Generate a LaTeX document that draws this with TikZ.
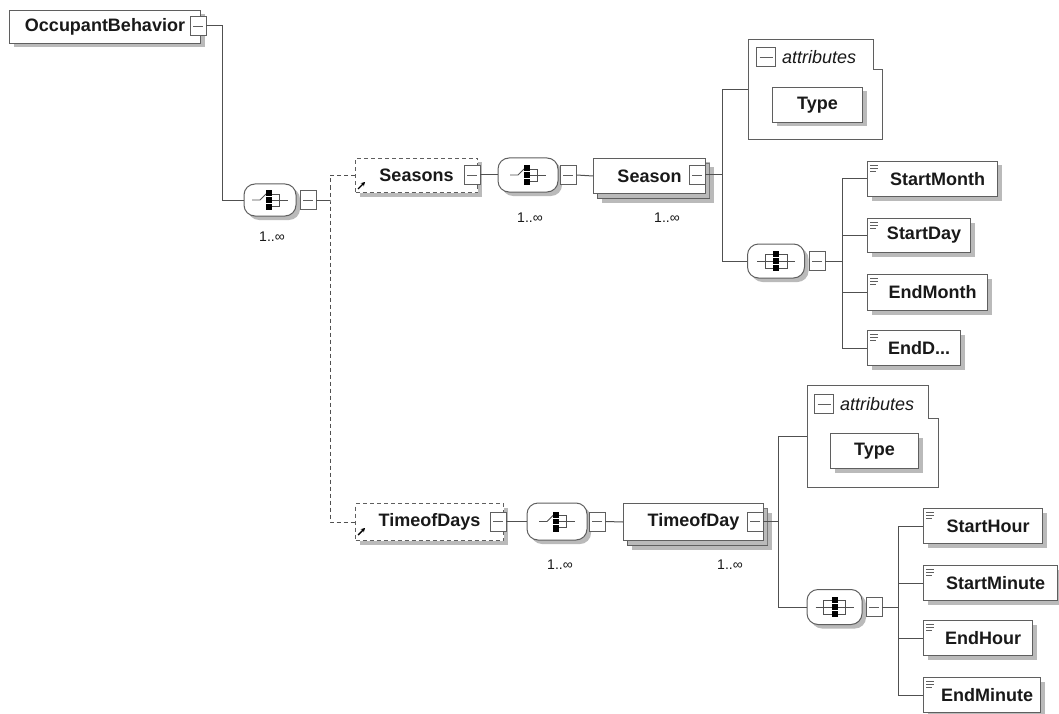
\documentclass[tikz,border=0pt]{standalone}
\usepackage{fontspec}
\setmainfont{Liberation Sans}
\usetikzlibrary{shadows,arrows.meta}
\definecolor{bordergray}{RGB}{95,95,95}
\definecolor{linegray}{RGB}{80,80,80}
\definecolor{textblack}{RGB}{25,25,25}
\definecolor{shadowgray}{RGB}{140,140,140}
\tikzset{
  shad/.style={drop shadow={shadow xshift=4pt, shadow yshift=-4pt, fill=shadowgray, opacity=0.6}},
  elbox/.style={draw=bordergray, fill=white, line width=1pt, rectangle, inner sep=0pt,
    anchor=north west, text=textblack, font=\bfseries\fontsize{18}{20}\selectfont, shad},
  refbox/.style={elbox, dashed, dash pattern=on 4pt off 3pt},
  btn/.style={draw=bordergray, fill=white, line width=0.9pt, rectangle, minimum width=16pt,
    minimum height=19pt, inner sep=0pt,
    path picture={\draw[bordergray, line width=0.9pt]
      ([xshift=3pt]path picture bounding box.west) -- ([xshift=-3pt]path picture bounding box.east);}},
  comp/.style={rectangle, rounded corners=11pt, draw=bordergray, fill=white,
    line width=1pt, inner sep=0pt, shad},
  conn/.style={draw=linegray, line width=1pt},
  mult/.style={font=\fontsize{14}{16}\selectfont, text=textblack},
  attrframe/.style={draw=bordergray, line width=1pt},
  attrtext/.style={font=\itshape\fontsize{18}{20}\selectfont, text=textblack, anchor=west, inner sep=0pt},
  swicon/.pic={
    \draw[linegray, line width=0.8pt] (-18,0) -- (-10,0) -- (-4,-6);
    \fill[black] (-4,-10) rectangle (2,10);
    \draw[white, line width=0.8pt] (-4,-3.3) -- (2,-3.3) (-4,3.3) -- (2,3.3);
    \draw[linegray, line width=0.9pt] (2,-6) -- (9,-6) -- (9,6) -- (2,6) (2,0) -- (18,0);
  },
  chicon/.pic={
    \draw[linegray, line width=0.8pt] (-19,0) -- (19,0);
    \draw[linegray, line width=0.9pt] (-11,-7) rectangle (11,7);
    \fill[black] (-3,-10) rectangle (3,10);
    \draw[white, line width=0.8pt] (-3,-3.5) -- (3,-3.5) (-3,3.5) -- (3,3.5);
  },
  leaficon/.pic={
    \draw[bordergray, line width=0.7pt] (0,0) -- (8,0) (0,3) -- (8,3) (0,6) -- (6,6);
  },
  refarrow/.style={black, line width=1.4pt, -{Stealth[length=4pt,width=4.5pt]}},
}
\begin{document}
\begin{tikzpicture}[x=1pt, y=-1pt]
\useasboundingbox[fill=white] (0,0) rectangle (1059,714);

% ---------- root ----------
\node[elbox, minimum width=191pt, minimum height=33pt] (ob) at (9,10) {OccupantBehavior\hspace{14pt}};
\node[btn] (obb) at (198,26) {};

% ---------- top-level compositor ----------
\node[comp, minimum width=52pt, minimum height=32pt] (seqA) at (270,200) {};
\pic at (seqA.center) {swicon};
\node[btn] (seqAb) at (308,200) {};
\node[mult] (mA) at (272,237) {1..∞};

\coordinate (v1) at (330,200);

% ---------- Seasons branch ----------
\node[refbox, minimum width=122pt, minimum height=34pt] (seasons) at (355,158) {Seasons\hspace{12pt}};
\node[btn] (seasonsb) at (472,175) {};
\draw[refarrow] (358,189) -- (365,182);

\node[comp, minimum width=60pt, minimum height=34pt] (seqB) at (528,175) {};
\pic at (seqB.center) {swicon};
\node[btn] (seqBb) at (568,175) {};
\node[mult] (mB) at (530,218) {1..∞};

\node[elbox, minimum width=112pt, minimum height=35pt] (seasonback) at (597,163) {};
\node[elbox, minimum width=112pt, minimum height=35pt] (season) at (593,158) {Season\hspace{12pt}};
\node[btn] (seasonb) at (697,175) {};
\node[mult] (mC) at (667,218) {1..∞};

\coordinate (v2) at (722,175);

% attributes A
\node[inner sep=0pt, minimum width=134pt, minimum height=99pt, anchor=north west] (attrA) at (748,40) {};
\draw[attrframe] (attrA.north west) -- ++(125,0) -- ++(0,30) -- ++(9,0) |- (attrA.south west) -- cycle;
\node[btn, minimum width=19pt, minimum height=19pt] (attrAm) at (766,57) {};
\node[attrtext] (attrAt) at (782,57) {attributes};
\node[elbox, minimum width=90pt, minimum height=35pt] (typeA) at (772,87) {Type\hspace{6pt}};

% choice A
\node[comp, minimum width=57pt, minimum height=34pt] (chA) at (776,261) {};
\pic at (chA.center) {chicon};
\node[btn] (chAb) at (817,261) {};
\coordinate (v3) at (842,261);

\node[elbox, minimum width=130pt, minimum height=35pt] (sm) at (867,161) {\hspace{10pt}StartMonth};
\node[elbox, minimum width=103pt, minimum height=34pt] (sd) at (867,218) {\hspace{10pt}StartDay};
\node[elbox, minimum width=120pt, minimum height=36pt] (em) at (867,274) {\hspace{10pt}EndMonth};
\node[elbox, minimum width=93pt, minimum height=35pt] (ed) at (867,330) {\hspace{10pt}EndD...};
\foreach \n in {sm,sd,em,ed} { \pic at ([shift={(3,4)}]\n.north west) {leaficon}; }

% ---------- TimeofDays branch ----------
\node[refbox, minimum width=148pt, minimum height=37pt] (tods) at (355,503) {TimeofDays\hspace{12pt}};
\node[btn] (todsb) at (498,521.5) {};
\draw[refarrow] (358,535) -- (365,528);

\node[comp, minimum width=60pt, minimum height=37pt] (seqC) at (557,521.5) {};
\pic at (seqC.center) {swicon};
\node[btn] (seqCb) at (597,521.5) {};
\node[mult] (mD) at (560,565) {1..∞};

\node[elbox, minimum width=140pt, minimum height=37pt] (todback) at (627,508) {};
\node[elbox, minimum width=140pt, minimum height=37pt] (tod) at (623,503) {TimeofDay\hspace{12pt}};
\node[btn] (todb) at (755,521.5) {};
\node[mult] (mE) at (730,565) {1..∞};

\coordinate (v4) at (778,521.5);

% attributes B
\node[inner sep=0pt, minimum width=131pt, minimum height=102pt, anchor=north west] (attrB) at (807,385) {};
\draw[attrframe] (attrB.north west) -- ++(121,0) -- ++(0,33) -- ++(10,0) |- (attrB.south west) -- cycle;
\node[btn, minimum width=19pt, minimum height=19pt] (attrBm) at (824,404) {};
\node[attrtext] (attrBt) at (840,404) {attributes};
\node[elbox, minimum width=88pt, minimum height=35pt] (typeB) at (830,433) {Type\hspace{6pt}};

% choice B
\node[comp, minimum width=55pt, minimum height=35pt] (chB) at (834.5,607) {};
\pic at (chB.center) {chicon};
\node[btn] (chBb) at (874,607) {};
\coordinate (v5) at (898,607);

\node[elbox, minimum width=119pt, minimum height=35pt] (sh) at (923,508) {\hspace{10pt}StartHour};
\node[elbox, minimum width=134pt, minimum height=35pt] (smin) at (923,565) {\hspace{10pt}StartMinute};
\node[elbox, minimum width=109pt, minimum height=35pt] (eh) at (923,620) {\hspace{10pt}EndHour};
\node[elbox, minimum width=117pt, minimum height=35pt] (emin) at (923,677) {\hspace{10pt}EndMinute};
\foreach \n in {sh,smin,eh,emin} { \pic at ([shift={(3,4)}]\n.north west) {leaficon}; }

% ---------- connectors ----------
\draw[conn] (obb.east) -- ++(16,0) |- (seqA.west);
\draw[conn] (seqAb.east) -- (v1);
\draw[conn, dashed, dash pattern=on 4pt off 3pt] (seasons.west) -| (v1) |- (tods.west);

\draw[conn] (seasonsb.east) -- (seqB.west);
\draw[conn] (seqBb.east) -- (season.west);
\draw[conn] (seasonb.east) -- (v2);
\draw[conn] (attrA.west) -| (v2) |- (chA.west);
\draw[conn] (chAb.east) -- (v3);
\foreach \n in {sm,sd,em,ed} { \draw[conn] (v3) |- (\n.west); }

\draw[conn] (todsb.east) -- (seqC.west);
\draw[conn] (seqCb.east) -- (tod.west);
\draw[conn] (todb.east) -- (v4);
\draw[conn] (attrB.west) -| (v4) |- (chB.west);
\draw[conn] (chBb.east) -- (v5);
\foreach \n in {sh,smin,eh,emin} { \draw[conn] (v5) |- (\n.west); }
\end{tikzpicture}
\end{document}
